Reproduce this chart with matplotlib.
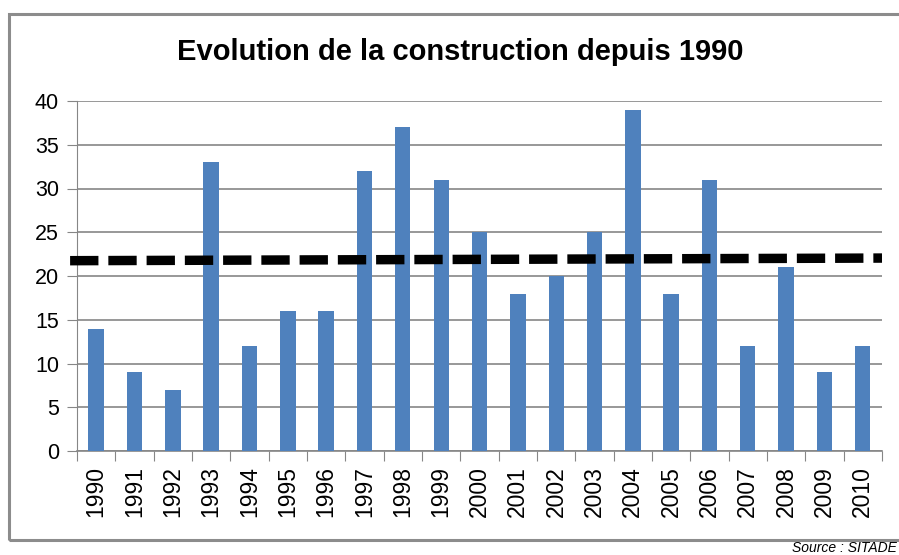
import matplotlib.pyplot as plt
from matplotlib.patches import Rectangle

# données
annees = [str(a) for a in range(1990, 2011)]
logements = [14, 9, 7, 33, 12, 16, 16, 32, 37, 31, 25, 18, 20, 25, 39, 18, 31, 12, 21, 9, 12]
tendance = [21.75, 22.05]  # moyenne (début, fin)

plt.rcParams['font.family'] = ['Liberation Sans', 'DejaVu Sans']

fig = plt.figure(figsize=(8.99, 5.55), dpi=100)
ax = fig.add_axes([77 / 899, 1 - 451 / 555, (882 - 77) / 899, 350 / 555])

# cadre du graphique
fig.patches.append(Rectangle((9 / 899, 1 - 540 / 555), 1.0, (540 - 14) / 555,
                             transform=fig.transFigure, fill=False,
                             edgecolor='#8c8c8c', linewidth=2.2))

x = range(len(annees))
ax.bar(x, logements, width=0.4, color='#4F81BD', zorder=3)
ax.plot([-0.68, len(annees) - 0.5], tendance, color='black', linewidth=6.8,
        linestyle=(0, (3, 1.05)), zorder=4, clip_on=False)

ax.set_xlim(-0.5, len(annees) - 0.5)
ax.set_ylim(0, 40)
ax.set_yticks(range(0, 41, 5))
ax.yaxis.grid(True, color='#868686', linewidth=1.2)
ax.set_axisbelow(True)

ax.set_xticks([i - 0.5 for i in range(len(annees) + 1)], minor=False)
ax.set_xticklabels([])
ax.set_xticks(list(x), minor=True)
ax.set_xticklabels(annees, minor=True, rotation=90, fontsize=16.5)
ax.tick_params(axis='x', which='major', length=7, color='#868686', direction='out')
ax.tick_params(axis='x', which='minor', length=0, pad=11)
ax.tick_params(axis='y', length=7, color='#868686', labelsize=15.5, pad=6)

for s in ['top', 'right']:
    ax.spines[s].set_visible(False)
ax.spines['left'].set_color('#868686')
ax.spines['bottom'].set_color('#868686')
ax.spines['bottom'].set_linewidth(1.2)

fig.text(0.512, 1 - 52 / 555, 'Evolution de la construction depuis 1990',
         ha='center', va='center', fontsize=21, fontweight='bold')
fig.text(897 / 899, 1 - 548 / 555, 'Source : SITADE', ha='right', va='center',
         fontsize=10, style='italic')

fig.savefig('out.png', dpi=100)
